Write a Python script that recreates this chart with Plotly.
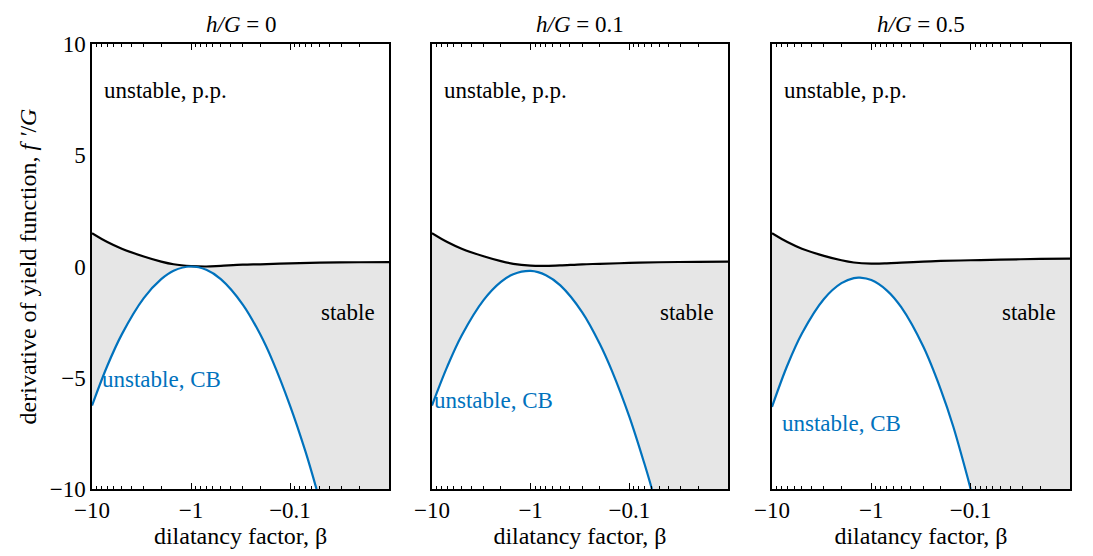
import plotly.graph_objects as go

# |beta| values (plotted on a reversed log axis, labelled as negative)
beta_black = [10, 7, 5, 3, 2, 1.5, 1, 0.7, 0.5, 0.3, 0.2, 0.1, 0.05, 0.02, 0.01]
black_hg0 = [1.5, 1.1, 0.8, 0.45, 0.22, 0.1, 0.02, 0.0, 0.03, 0.08, 0.1, 0.14, 0.17, 0.19, 0.2]
black_hg01 = [1.5, 1.1, 0.8, 0.46, 0.24, 0.12, 0.04, 0.03, 0.05, 0.1, 0.12, 0.16, 0.19, 0.21, 0.22]
black_hg05 = [1.5, 1.1, 0.8, 0.48, 0.28, 0.18, 0.13, 0.14, 0.17, 0.22, 0.25, 0.28, 0.31, 0.34, 0.35]

beta_blue_hg0 = [10, 7, 5, 3, 2, 1.5, 1, 0.7, 0.5, 0.3, 0.2, 0.15, 0.1, 0.07, 0.054]
blue_hg0 = [-6.25, -4.46, -3.05, -1.42, -0.57, -0.19, 0.0, -0.15, -0.57, -1.71, -3.05, -4.24, -6.25, -8.3, -10]
beta_blue_hg01 = [10, 7, 5, 3, 2, 1.5, 1, 0.7, 0.5, 0.3, 0.2, 0.15, 0.1, 0.07, 0.059]
blue_hg01 = [-6.25, -4.5, -3.1, -1.51, -0.69, -0.35, -0.2, -0.39, -0.85, -2.06, -3.46, -4.69, -6.75, -8.89, -10]
beta_blue_hg05 = [10, 7, 5, 3, 2, 1.5, 1.3, 1, 0.7, 0.5, 0.3, 0.2, 0.15, 0.1]
blue_hg05 = [-6.31, -4.44, -3.01, -1.46, -0.75, -0.52, -0.5, -0.61, -1.07, -1.83, -3.6, -5.53, -7.18, -10]

titles = ["<i>h/G</i> = 0", "<i>h/G</i> = 0.1", "<i>h/G</i> = 0.5"]
cb_label_y = [-5.1, -6.0, -7.05]

panels = [
    (black_hg0, beta_blue_hg0, blue_hg0),
    (black_hg01, beta_blue_hg01, blue_hg01),
    (black_hg05, beta_blue_hg05, blue_hg05),
]

FONT = "Liberation Serif"
BLUE = "#0072BD"
GREY = "#e6e6e6"
domains = [[0.0, 0.3037], [0.3476, 0.6503], [0.6953, 1.0]]
minor_vals = [m * d for d in (0.01, 0.1, 1) for m in range(2, 10)]

fig = go.Figure()

for i, (black, bx, by) in enumerate(panels):
    xa = "x" if i == 0 else f"x{i + 1}"
    ya = "y" if i == 0 else f"y{i + 1}"
    # grey stable region: from bottom up to the black curve
    fig.add_trace(go.Scatter(x=beta_black, y=[-10] * len(beta_black), mode="lines",
                             line=dict(width=0), xaxis=xa, yaxis=ya, hoverinfo="skip"))
    fig.add_trace(go.Scatter(x=beta_black, y=black, mode="lines", fill="tonexty",
                             fillcolor=GREY, line=dict(width=0, shape="spline"),
                             xaxis=xa, yaxis=ya, hoverinfo="skip"))
    # white region under the CB curve
    fig.add_trace(go.Scatter(x=bx, y=[-10] * len(bx), mode="lines",
                             line=dict(width=0), xaxis=xa, yaxis=ya, hoverinfo="skip"))
    fig.add_trace(go.Scatter(x=bx, y=by, mode="lines", fill="tonexty",
                             fillcolor="white", line=dict(width=0, shape="spline"),
                             xaxis=xa, yaxis=ya, hoverinfo="skip"))
    # boundary curves
    fig.add_trace(go.Scatter(x=beta_black, y=black, mode="lines",
                             line=dict(color="black", width=2.2, shape="spline"),
                             xaxis=xa, yaxis=ya))
    fig.add_trace(go.Scatter(x=bx, y=by, mode="lines",
                             line=dict(color=BLUE, width=2.2, shape="spline"),
                             xaxis=xa, yaxis=ya))

    ticktext = ["\u221210", "\u22121", "\u22120.1", "\u22120.01" if i == 2 else ""]
    fig.layout[f"xaxis{'' if i == 0 else i + 1}"] = dict(
        domain=domains[i], anchor=ya, type="log", range=[1, -2],
        tickvals=[10, 1, 0.1, 0.01], ticktext=ticktext,
        ticks="inside", ticklen=6, tickcolor="black", tickwidth=1,
        showline=True, linecolor="black", linewidth=1.5, mirror="allticks",
        showgrid=False, zeroline=False,
        minor=dict(ticks="inside", ticklen=3, tickvals=minor_vals, tickcolor="black", showgrid=False),
        tickfont=dict(family=FONT, size=23, color="black"),
        title=dict(text="dilatancy factor, \u03b2", font=dict(family=FONT, size=24, color="black"), standoff=2),
    )
    fig.layout[f"yaxis{'' if i == 0 else i + 1}"] = dict(
        domain=[0, 1], anchor=xa, range=[-10, 10],
        tickvals=[-10, -5, 0, 5, 10],
        ticktext=["\u221210", "\u22125", "0", "5", "10"],
        showticklabels=(i == 0), ticks="",
        showline=True, linecolor="black", linewidth=1.5, mirror=True,
        showgrid=False, zeroline=False,
        tickfont=dict(family=FONT, size=23, color="black"),
    )

    xd = f"{xa} domain"
    fig.add_annotation(text=titles[i], xref=xd, yref="paper", x=0.5, y=1.0, yshift=5,
                       xanchor="center", yanchor="bottom", showarrow=False,
                       font=dict(family=FONT, size=23, color="black"))
    fig.add_annotation(text="unstable, p.p.", xref=xd, yref=ya, x=0.033, y=7.9,
                       xanchor="left", yanchor="middle", showarrow=False,
                       font=dict(family=FONT, size=23, color="black"))
    fig.add_annotation(text="stable", xref=xd, yref=ya, x=0.96, y=-2.07,
                       xanchor="right", yanchor="middle", showarrow=False,
                       font=dict(family=FONT, size=23, color="black"))
    fig.add_annotation(text="unstable, CB", xref=xd, yref=ya, x=0.027 if i != 1 else 0.0, y=cb_label_y[i],
                       xanchor="left", yanchor="middle", showarrow=False,
                       font=dict(family=FONT, size=23, color=BLUE))

fig.layout.yaxis.title = dict(text="derivative of yield function, <i>f \u2032</i>/<i>G</i>",
                              font=dict(family=FONT, size=24, color="black"), standoff=6)

# the page body adds an 8px offset, so the figure is sized and shifted to compensate
fig.update_layout(
    width=1085, height=548,
    margin=dict(l=84, r=23, t=36, b=67),
    paper_bgcolor="white", plot_bgcolor="white",
    showlegend=False,
)

fig.write_html("out.html")
